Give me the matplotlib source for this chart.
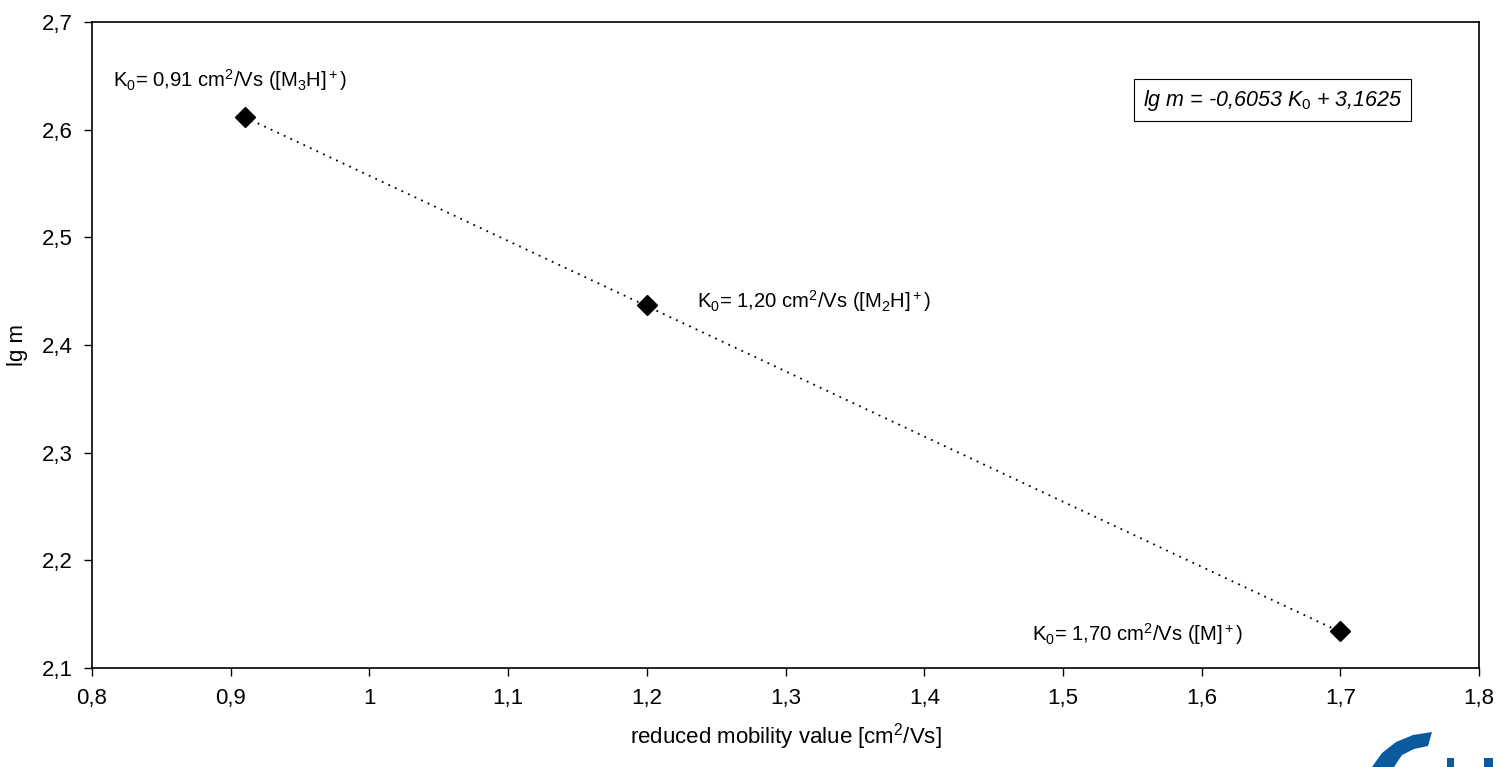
import numpy as np
import matplotlib
matplotlib.use("Agg")
import matplotlib.pyplot as plt
from matplotlib.ticker import FuncFormatter, MultipleLocator
from matplotlib.patches import Polygon, Rectangle

plt.rcParams["font.family"] = ["Liberation Sans", "DejaVu Sans"]
plt.rcParams["mathtext.fontset"] = "custom"
plt.rcParams["mathtext.rm"] = "Liberation Sans"
plt.rcParams["mathtext.it"] = "Liberation Sans:italic"

# data
k0 = [0.91, 1.20, 1.70]
lg_m = [2.612, 2.437, 2.134]
point_labels = [
    r"K$_0$= 0,91 cm$^2$/Vs ([M$_3$H]$^+$)",
    r"K$_0$= 1,20 cm$^2$/Vs ([M$_2$H]$^+$)",
    r"K$_0$= 1,70 cm$^2$/Vs ([M]$^+$)",
]
label_pos = [(0.815, 2.646), (1.236, 2.441), (1.478, 2.132)]
slope = -0.6053
intercept = 3.1625


def comma(v, pos):
    return f"{v:g}".replace(".", ",")


fig = plt.figure(figsize=(14.99, 7.67), dpi=100)
ax = fig.add_axes([0.0614, 0.129, 0.9253, 0.8423])

xs = np.array([min(k0), max(k0)])
ax.plot(xs, slope * xs + intercept, color="black", linestyle=(0, (1, 3)), linewidth=1.3)
ax.plot(k0, lg_m, linestyle="none", marker="D", markersize=10, color="black")

for text, (x, y) in zip(point_labels, label_pos):
    ax.text(x, y, text, fontsize=14.6, va="center", ha="left")

ax.text(0.851, 0.879, r"lg m = -0,6053 $\mathit{K_0}$ + 3,1625",
        transform=ax.transAxes, fontsize=15.5, style="italic", ha="center", va="center",
        bbox=dict(boxstyle="square,pad=0.4", facecolor="white", edgecolor="black", linewidth=0.8))

ax.set_xlim(0.8, 1.8)
ax.set_ylim(2.1, 2.7)
ax.xaxis.set_major_locator(MultipleLocator(0.1))
ax.yaxis.set_major_locator(MultipleLocator(0.1))
ax.xaxis.set_major_formatter(FuncFormatter(comma))
ax.yaxis.set_major_formatter(FuncFormatter(comma))
ax.tick_params(direction="out", length=6, width=1, labelsize=16, pad=8)
for s in ax.spines.values():
    s.set_linewidth(1.2)

ax.set_xlabel(r"reduced mobility value [cm$^2$/Vs]", fontsize=16, labelpad=9)
ax.set_ylabel("lg m", fontsize=16, labelpad=10)

# partial logo in the bottom-right corner (display pixels, origin bottom-left)
blue = "#0b5a9e"
H = 767
arc = [(1372, 767), (1382, 753), (1396, 742), (1413, 735), (1432, 732),
       (1428, 746), (1414, 749), (1402, 755), (1394, 767)]
fig.patches.append(Polygon([(x, H - y) for x, y in arc], closed=True,
                           facecolor=blue, edgecolor="none", transform=None))
fig.patches.append(Rectangle((1447, 0), 7, 9, facecolor=blue, edgecolor="none", transform=None))
fig.patches.append(Rectangle((1484, 0), 9, 9, facecolor=blue, edgecolor="none", transform=None))

fig.savefig("out.png", dpi=100)
